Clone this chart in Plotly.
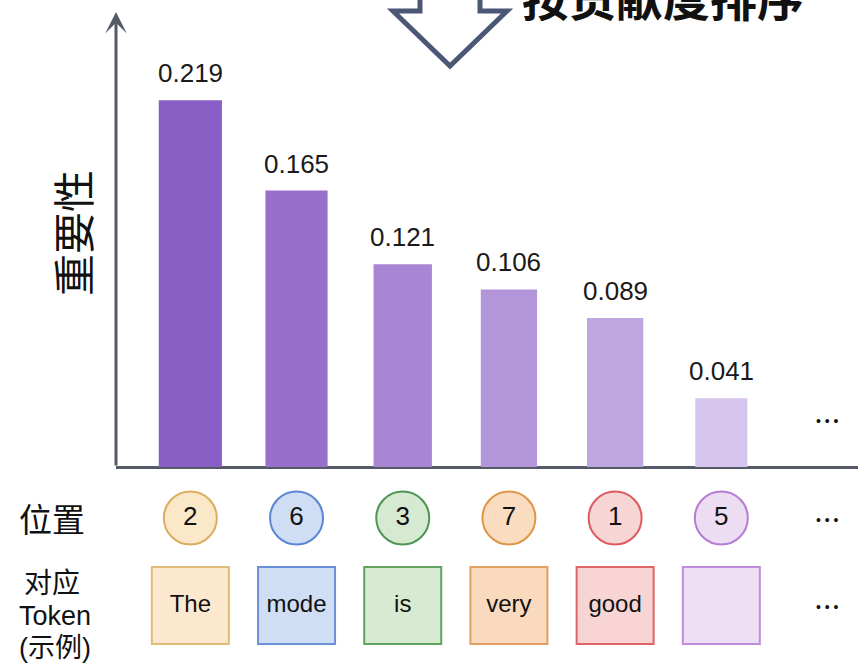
import plotly.graph_objects as go

# ---- data -------------------------------------------------------------
importance = [0.219, 0.165, 0.121, 0.106, 0.089, 0.041]
positions = ["2", "6", "3", "7", "1", "5"]
tokens = ["The", "mode", "is", "very", "good", ""]
slots = list(range(len(importance)))

# ---- styling ----------------------------------------------------------
bar_colors = ["#8A5FC5", "#986FCB", "#A886D4", "#B396DA", "#BEA6E0", "#D5C5EC"]
bar_widths = [0.595, 0.585, 0.55, 0.53, 0.53, 0.49]
circle_fill = ["#FBE8C9", "#D0DEF5", "#D6EAD2", "#FADCC0", "#F8D5D5", "#ECDDF3"]
circle_line = ["#D9AE5E", "#5C86D4", "#4E9553", "#DE9648", "#DD5B5E", "#B47CD2"]
square_fill = ["#FCE8CE", "#CFDDF5", "#D6EBD2", "#FADABE", "#F8D4D4", "#EEDFF5"]
square_line = ["#E0BC78", "#6A91D7", "#5FA35E", "#E1A062", "#DF6466", "#BE8DDB"]
axis_color = "#555A66"
arrow_color = "#4A5775"
latin = "Liberation Sans, Arial, sans-serif"
cjk = "Noto Sans CJK SC, sans-serif"

W, H = 858, 664
PLOT_L, PLOT_R, PLOT_T, PLOT_B = 116, 858, 12, 664
BASE = 467                      # pixel row of the value axis baseline
PX_PER_UNIT = 1675.0            # vertical pixels per unit of importance
X_RANGE = [-0.70, 6.287]


def paper_x(px):
    return (px - PLOT_L) / (PLOT_R - PLOT_L)


def paper_y(py):
    return (PLOT_B - py) / (PLOT_B - PLOT_T)


def data_y(py):
    return (BASE - py) / PX_PER_UNIT


fig = go.Figure()

# importance bars
fig.add_trace(go.Bar(
    x=slots, y=importance, width=bar_widths,
    marker=dict(color=bar_colors, line=dict(width=0)),
    hoverinfo="skip",
))

# position badges (circles)
fig.add_trace(go.Scatter(
    x=slots, y=[data_y(518)] * len(slots), mode="markers+text",
    marker=dict(symbol="circle", size=53, color=circle_fill,
                line=dict(color=circle_line, width=2)),
    text=positions, textposition="middle center",
    textfont=dict(family=latin, size=26, color="#111111"),
    hoverinfo="skip",
))

# token boxes (squares)
fig.add_trace(go.Scatter(
    x=slots, y=[data_y(605.5)] * len(slots), mode="markers+text",
    marker=dict(symbol="square", size=77, color=square_fill,
                line=dict(color=square_line, width=2)),
    text=tokens, textposition="middle center",
    textfont=dict(family=latin, size=24, color="#111111"),
    hoverinfo="skip",
))

annotations = []

# value labels above bars
for i, v in zip(slots, importance):
    annotations.append(dict(
        x=i, y=v, xref="x", yref="y", text=f"{v:.3f}", showarrow=False,
        xanchor="center", yanchor="middle", yshift=27,
        font=dict(family=latin, size=26, color="#1A1A1A"),
    ))

# ellipses in the "more" column
for py in (421, 520, 607):
    annotations.append(dict(
        x=len(slots), y=paper_y(py), xref="x", yref="paper", text="• • •",
        showarrow=False, xanchor="center", yanchor="middle",
        font=dict(family=latin, size=14, color="#111111"),
    ))

# y axis drawn as an arrow from the baseline upward
annotations.append(dict(
    x=0, y=paper_y(12), xref="paper", yref="paper",
    ax=0, ay=BASE - 12, axref="pixel", ayref="pixel",
    text="", showarrow=True, arrowhead=3, arrowsize=1.2,
    arrowwidth=3, arrowcolor=axis_color, standoff=0,
))

# y axis title
annotations.append(dict(
    x=paper_x(71), y=paper_y(233), xref="paper", yref="paper",
    text="重要性", textangle=-90, showarrow=False,
    xanchor="center", yanchor="middle",
    font=dict(family=cjk, size=42, color="#111111"),
))

# row labels
row_labels = [
    ("位置", 51.5, 518, cjk, 33),
    ("对应", 51.5, 581, cjk, 28),
    ("Token", 54.5, 616, latin, 27),
    ("(示例)", 55, 648, "Liberation Sans, Noto Sans CJK SC, sans-serif", 27),
]
for txt, px, py, fam, size in row_labels:
    annotations.append(dict(
        x=paper_x(px), y=paper_y(py), xref="paper", yref="paper",
        text=txt, showarrow=False, xanchor="center", yanchor="middle",
        font=dict(family=fam, size=size, color="#111111"),
    ))

# sorting caption next to the big arrow
annotations.append(dict(
    x=paper_x(663), y=paper_y(-4), xref="paper", yref="paper",
    text="<b>按贡献度排序</b>", showarrow=False,
    xanchor="center", yanchor="middle",
    font=dict(family=cjk, size=47, color="#111111"),
))

# hollow down arrow
arrow_pts = [(420, -12), (420, 11), (393, 11), (450, 66), (507, 11),
             (480, 11), (480, -12)]
arrow_path = "M " + " L ".join(f"{paper_x(px):.5f},{paper_y(py):.5f}"
                               for px, py in arrow_pts)
shapes = [dict(
    type="path", path=arrow_path, xref="paper", yref="paper",
    line=dict(color=arrow_color, width=5), fillcolor="rgba(0,0,0,0)",
    layer="above",
)]

fig.update_layout(
    width=W, height=H,
    margin=dict(l=PLOT_L, r=W - PLOT_R, t=PLOT_T, b=H - PLOT_B, pad=0),
    paper_bgcolor="white", plot_bgcolor="white",
    showlegend=False,
    xaxis=dict(range=X_RANGE, showgrid=False, zeroline=False,
               showticklabels=False, ticks="", showline=False,
               fixedrange=True),
    yaxis=dict(range=[data_y(PLOT_B), data_y(PLOT_T)], showgrid=False,
               zeroline=True, zerolinecolor=axis_color, zerolinewidth=3,
               showticklabels=False, ticks="", showline=False,
               fixedrange=True),
    annotations=annotations,
    shapes=shapes,
)

fig.write_html("out.html")
